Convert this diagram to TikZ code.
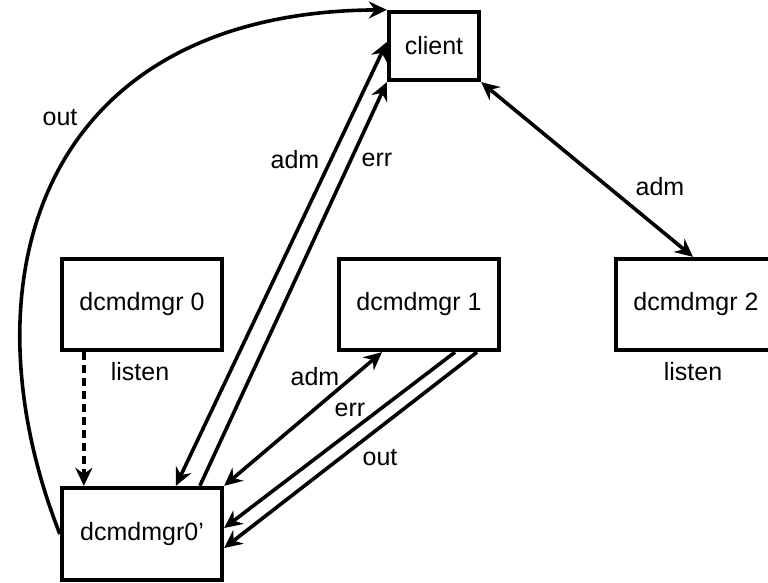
\documentclass[tikz,border=0pt]{standalone}
\usepackage{fontspec}
\setmainfont{Liberation Sans}
\usetikzlibrary{arrows.meta,calc}
\begin{document}
\begin{tikzpicture}[x=1pt,y=-1pt,
  >={Stealth[length=18pt,width=17pt,inset=6pt]},
  every node/.style={font=\fontsize{25}{30}\selectfont},
  box/.style={draw,line width=4.3pt,minimum width=160pt,minimum height=91pt,inner sep=0pt},
  conn/.style={line width=3.6pt},
  lbl/.style={inner sep=0pt}]
\useasboundingbox (0,0) rectangle (768,583);
\clip (0,0) rectangle (768,583);
% boxes
\node[box,minimum width=90pt,minimum height=68pt] (client) at (434,46) {client};
\node[box] (d0) at (142,304.5) {dcmdmgr 0};
\node[box] (d1) at (419,304.5) {dcmdmgr 1};
\node[box] (d2) at (696,304.5) {dcmdmgr 2};
\node[box,minimum height=92pt] (d0p) at (142,534) {dcmdmgr0'};
% connectors
\draw[conn,->] (d0p.west) .. controls (-40,280) and (40,12) .. (client.north west);
\draw[conn,<->] ([xshift=116pt]d0p.north west) -- ([yshift=4pt]client.west);
\draw[conn,->] ([xshift=140pt]d0p.north west) -- (client.south west);
\draw[conn,<->] (client.south east) -- ([xshift=-3pt]d2.north);
\draw[conn,<->] (d0p.north east) -- ([xshift=-37pt]d1.south);
\draw[conn,->] ([xshift=36pt]d1.south) -- ([yshift=6pt]d0p.east);
\draw[conn,->] ([xshift=58pt]d1.south) -- ([yshift=-14pt]d0p.east);
\draw[conn,->,dash pattern=on 8pt off 5pt] ([xshift=24pt]d0.south west) -- ([xshift=24pt]d0p.north west);
% labels
\node[lbl] (lout1) at (60,118) {out};
\node[lbl] (ladm1) at (295,160) {adm};
\node[lbl] (lerr1) at (377,160) {err};
\node[lbl] (ladm2) at (660,187) {adm};
\node[lbl] (ladm3) at (315,377) {adm};
\node[lbl] (lerr2) at (350,410) {err};
\node[lbl] (lout2) at (380,458) {out};
\node[lbl] (lis0) at (140,372) {listen};
\node[lbl] (lis2) at (693,372) {listen};
\end{tikzpicture}
\end{document}
